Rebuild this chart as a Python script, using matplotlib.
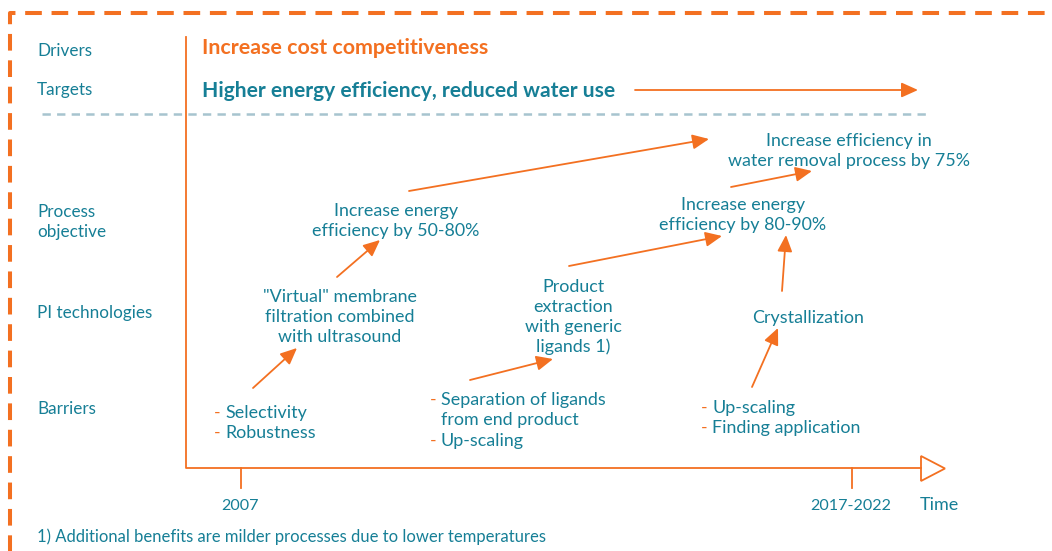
import matplotlib
matplotlib.use("Agg")
import matplotlib.pyplot as plt

plt.rcParams['font.family'] = ['Lato', 'DejaVu Sans']
plt.rcParams['lines.scale_dashes'] = False

ORANGE = '#F37021'
TEAL = '#167F96'
GREY = '#A7C4CF'

# content of the roadmap
row_labels = ["Drivers", "Targets", "Process\nobjective", "PI technologies", "Barriers"]
row_y = [51, 90, 222, 313, 409]

driver_text = "Increase cost competitiveness"
target_text = "Higher energy efficiency, reduced water use"

objectives = [
    ["Increase energy", "efficiency by 50-80%"],
    ["Increase energy", "efficiency by 80-90%"],
    ["Increase efficiency in", "water removal process by 75%"],
]
objective_xy = [(396, 211), (743, 205), (849, 141)]

technologies = [
    ['"Virtual" membrane', "filtration combined", "with ultrasound"],
    ["Product", "extraction", "with generic", "ligands 1)"],
    ["Crystallization"],
]
technology_xy = [(340, 297), (573, 287), (808, 318)]

barriers = [
    [("-", "Selectivity"), ("-", "Robustness")],
    [("-", "Separation of ligands"), ("", "from end product"), ("-", "Up-scaling")],
    [("-", "Up-scaling"), ("-", "Finding application")],
]
barrier_xy = [(214, 413), (430, 400), (701, 408)]
barrier_dy = [20, 20.5, 20]

# arrows (start -> end) linking the stages
arrows = [
    ((253, 388), (297, 348)),
    ((337, 277), (380, 240)),
    ((409, 191), (709, 139)),
    ((470, 380), (553, 359)),
    ((569, 266), (722, 236)),
    ((731, 187), (812, 171)),
    ((782, 291), (786, 235)),
    ((752, 387), (778, 328)),
]

time_ticks = [241, 852]
time_labels = ["2007", "2017-2022"]
footnote = "1) Additional benefits are milder processes due to lower temperatures"

fig = plt.figure(figsize=(10.52, 5.51), dpi=100)
ax = fig.add_axes([0, 0, 1, 1])
ax.set_xlim(0, 1052)
ax.set_ylim(551, 0)
ax.axis('off')

# dashed frame
ax.plot([10, 10, 1060], [560, 13, 13], color=ORANGE, lw=2.9,
        dashes=(12, 7), solid_capstyle='butt', dash_capstyle='butt')

# grey dashed separator
ax.plot([42, 928], [114, 114], color=GREY, lw=1.8, dashes=(6, 4.5))

# axes of the roadmap
ax.plot([186, 186, 921], [37, 468, 468], color=ORANGE, lw=1.3)
ax.fill([921, 921, 945], [456, 481, 468.5], facecolor='white',
        edgecolor=ORANGE, lw=1.3)
for x in time_ticks:
    ax.plot([x, x], [468, 488], color=ORANGE, lw=1.3)
for x, lab in zip(time_ticks, time_labels):
    ax.text(x - 1, 506, lab, color=TEAL, fontsize=11.6, ha='center', va='center')
ax.text(939, 505, "Time", color=TEAL, fontsize=13, ha='center', va='center')

# row labels
for lab, y in zip(row_labels, row_y):
    ax.text(37, y, lab, color=TEAL, fontsize=12.3, ha='left', va='center',
            linespacing=1.3)

ax.text(202, 48, driver_text, color=ORANGE, fontsize=15.4, fontweight='bold',
        ha='left', va='center')
ax.text(202, 91, target_text, color=TEAL, fontsize=15.1, fontweight='bold',
        ha='left', va='center')
ax.annotate("", xy=(918, 90), xytext=(635, 90),
            arrowprops=dict(arrowstyle='-|>,head_length=1.0,head_width=0.45',
                            color=ORANGE, lw=1.3, shrinkA=0, shrinkB=0))

for lines, (x, y) in zip(objectives + technologies, objective_xy + technology_xy):
    for i, line in enumerate(lines):
        ax.text(x, y + i * 20, line, color=TEAL, fontsize=12.9,
                ha='center', va='center')

for items, (x, y), dy in zip(barriers, barrier_xy, barrier_dy):
    for i, (dash, line) in enumerate(items):
        if dash:
            ax.text(x, y + i * dy, dash, color=ORANGE, fontsize=12.9,
                    ha='left', va='center')
        ax.text(x + 11, y + i * dy, line, color=TEAL, fontsize=12.9,
                ha='left', va='center')

for start, end in arrows:
    ax.annotate("", xy=end, xytext=start,
                arrowprops=dict(arrowstyle='-|>,head_length=1.0,head_width=0.45',
                                color=ORANGE, lw=1.3, shrinkA=0, shrinkB=0))

ax.text(37, 537, footnote, color=TEAL, fontsize=12, ha='left', va='center')

fig.savefig("out.png", dpi=100)
